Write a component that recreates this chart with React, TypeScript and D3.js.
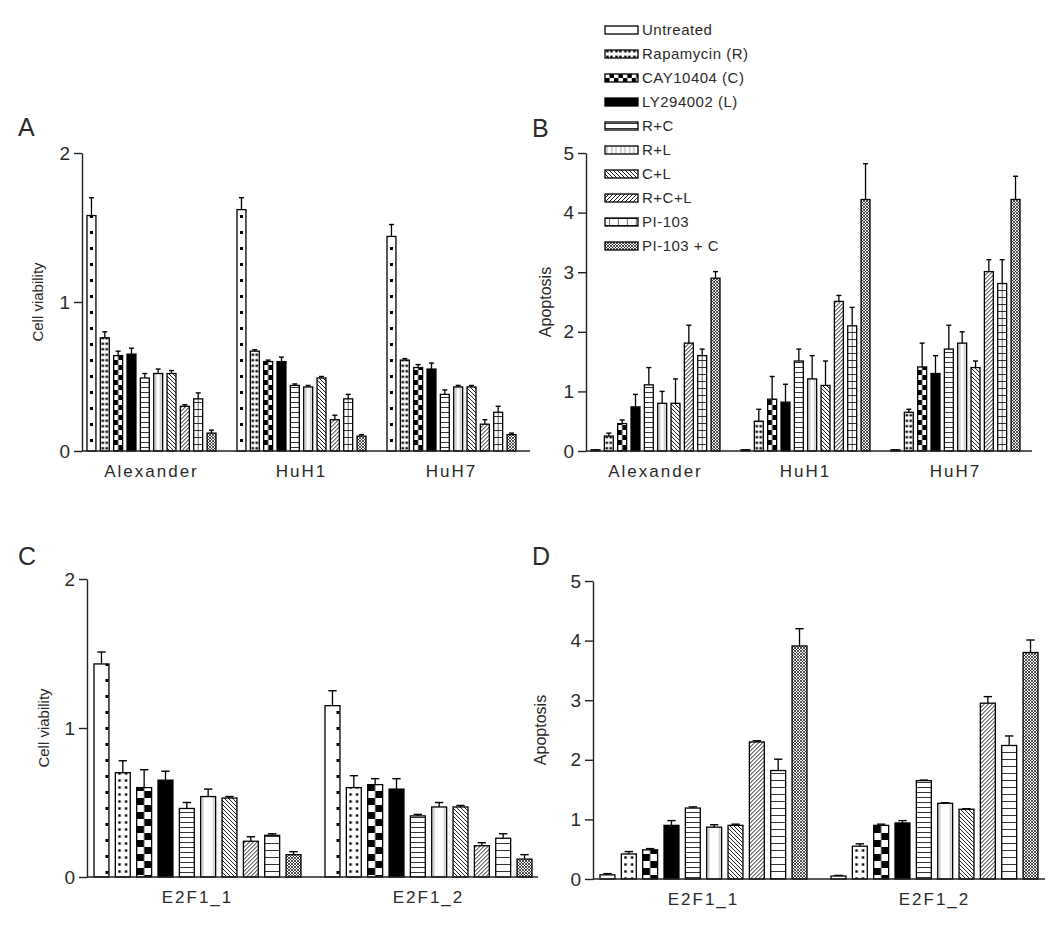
import React, { useEffect, useRef } from 'react';
import * as d3 from 'd3';

// treatments (legend order = bar order inside each group)
const treatments = [
  'Untreated',
  'Rapamycin (R)',
  'CAY10404 (C)',
  'LY294002 (L)',
  'R+C',
  'R+L',
  'C+L',
  'R+C+L',
  'PI-103',
  'PI-103 + C',
];

const cellLines = ['Alexander', 'HuH1', 'HuH7'];
const e2f1Lines = ['E2F1_1', 'E2F1_2'];

// A: cell viability, one row per cell line
const viabilityA = [
  [1.58, 0.76, 0.64, 0.65, 0.49, 0.52, 0.52, 0.3, 0.35, 0.12],
  [1.62, 0.67, 0.6, 0.6, 0.44, 0.43, 0.49, 0.21, 0.35, 0.1],
  [1.44, 0.61, 0.56, 0.55, 0.38, 0.43, 0.43, 0.18, 0.26, 0.11],
];
const viabilityAErr = [
  [0.12, 0.04, 0.03, 0.04, 0.03, 0.03, 0.02, 0.01, 0.04, 0.02],
  [0.08, 0.01, 0.01, 0.03, 0.01, 0.01, 0.01, 0.03, 0.03, 0.01],
  [0.08, 0.01, 0.02, 0.04, 0.03, 0.01, 0.01, 0.03, 0.04, 0.01],
];

// B: apoptosis
const apoptosisB = [
  [0.02, 0.25, 0.46, 0.74, 1.11, 0.8, 0.8, 1.81, 1.6, 2.9],
  [0.02, 0.5, 0.87, 0.82, 1.51, 1.21, 1.1, 2.51, 2.1, 4.22],
  [0.02, 0.65, 1.41, 1.3, 1.71, 1.81, 1.4, 3.01, 2.81, 4.22],
];
const apoptosisBErr = [
  [0, 0.05, 0.06, 0.21, 0.29, 0.2, 0.41, 0.3, 0.11, 0.11],
  [0, 0.2, 0.38, 0.3, 0.2, 0.39, 0.41, 0.1, 0.31, 0.6],
  [0, 0.05, 0.4, 0.3, 0.4, 0.19, 0.11, 0.2, 0.4, 0.39],
];

// C: cell viability, E2F1 lines
const viabilityC = [
  [1.43, 0.7, 0.6, 0.65, 0.46, 0.54, 0.53, 0.24, 0.28, 0.15],
  [1.15, 0.6, 0.62, 0.59, 0.41, 0.47, 0.47, 0.21, 0.26, 0.12],
];
const viabilityCErr = [
  [0.08, 0.08, 0.12, 0.06, 0.04, 0.05, 0.01, 0.03, 0.01, 0.02],
  [0.1, 0.08, 0.04, 0.07, 0.01, 0.03, 0.01, 0.02, 0.03, 0.03],
];

// D: apoptosis, E2F1 lines
const apoptosisD = [
  [0.07, 0.42, 0.49, 0.9, 1.19, 0.87, 0.9, 2.3, 1.82, 3.91],
  [0.05, 0.55, 0.9, 0.94, 1.65, 1.27, 1.17, 2.95, 2.24, 3.8],
];
const apoptosisDErr = [
  [0.02, 0.04, 0.02, 0.08, 0.02, 0.04, 0.02, 0.02, 0.19, 0.29],
  [0.01, 0.04, 0.02, 0.04, 0.01, 0.01, 0.01, 0.11, 0.16, 0.21],
];

const viabilityTicks = [0, 1, 2];
const apoptosisTicks = [0, 1, 2, 3, 4, 5];

const FONT = '"Liberation Sans", Arial, sans-serif';
const INK = '#2a2a2a';

const panels = [
  {
    letter: 'A', groups: cellLines, values: viabilityA, errors: viabilityAErr,
    ticks: viabilityTicks, yLabel: 'Cell viability',
    axisX: 82, xEnd: 530, top: 153, bottom: 451, barStart: 87, barEnd: 516,
    letterX: 18, letterY: 136, labelX: 38, groupPad: 0.14, barPad: 0.33, wide: false, labelSize: 15,
  },
  {
    letter: 'B', groups: cellLines, values: apoptosisB, errors: apoptosisBErr,
    ticks: apoptosisTicks, yLabel: 'Apoptosis',
    axisX: 586, xEnd: 1032, top: 153, bottom: 451, barStart: 591, barEnd: 1020,
    letterX: 532, letterY: 137, labelX: 545, groupPad: 0.14, barPad: 0.33, wide: false, labelSize: 16,
  },
  {
    letter: 'C', groups: e2f1Lines, values: viabilityC, errors: viabilityCErr,
    ticks: viabilityTicks, yLabel: 'Cell viability',
    axisX: 87, xEnd: 538, top: 579, bottom: 877, barStart: 94, barEnd: 532,
    letterX: 18, letterY: 565, labelX: 44, groupPad: 0.104, barPad: 0.3, wide: true, labelSize: 15,
  },
  {
    letter: 'D', groups: e2f1Lines, values: apoptosisD, errors: apoptosisDErr,
    ticks: apoptosisTicks, yLabel: 'Apoptosis',
    axisX: 593, xEnd: 1045, top: 581, bottom: 879, barStart: 600, barEnd: 1038,
    letterX: 532, letterY: 565, labelX: 540, groupPad: 0.104, barPad: 0.3, wide: true, labelSize: 16,
  },
];

// fill patterns, one set per bar width; tile origin = bar left edge
const addPatterns = (defs: any, prefix: string, w: number, wide: boolean) => {
  const mk = (i: number, tw: number, th: number) => {
    const p = defs
      .append('pattern')
      .attr('id', `${prefix}${i}`)
      .attr('patternUnits', 'userSpaceOnUse')
      .attr('width', tw)
      .attr('height', th);
    p.append('rect').attr('width', tw).attr('height', th).attr('fill', '#fff');
    return p;
  };
  // untreated: column of dots
  let p = mk(0, w, 16);
  p.append('rect').attr('x', wide ? w - 3.5 : w / 2 - 1.5).attr('y', 7).attr('width', 3).attr('height', 3).attr('fill', '#000');
  // rapamycin: dotted grid
  const rh = wide ? 7 : 5.5;
  p = mk(1, w, rh);
  [0.28, 0.72].forEach((f) =>
    p.append('rect').attr('x', w * f - 1.2).attr('y', rh / 2 - 1.2).attr('width', 2.4).attr('height', 2.4).attr('fill', '#000')
  );
  // CAY10404: checkerboard
  const ch = wide ? 14 : 10;
  p = mk(2, w, ch);
  p.append('rect').attr('x', 0).attr('y', 0).attr('width', w / 2).attr('height', ch / 2).attr('fill', '#000');
  p.append('rect').attr('x', w / 2).attr('y', ch / 2).attr('width', w / 2).attr('height', ch / 2).attr('fill', '#000');
  // LY294002: solid
  p = mk(3, w, 4);
  p.select('rect').attr('fill', '#000');
  // R+C: horizontal lines
  p = mk(4, w, 5);
  p.append('line').attr('x1', 0).attr('x2', w).attr('y1', 2.5).attr('y2', 2.5).attr('stroke', '#000').attr('stroke-width', 0.8);
  // R+L: fine vertical lines near edges
  p = mk(5, w, 4);
  [2, w - 2].forEach((x) =>
    p.append('line').attr('x1', x).attr('x2', x).attr('y1', 0).attr('y2', 4).attr('stroke', '#666').attr('stroke-width', 0.6)
  );
  // C+L: back diagonal
  p = mk(6, 4, 4);
  p.append('path').attr('d', 'M0,0L4,4M-1,3L1,5M3,-1L5,1').attr('stroke', '#000').attr('stroke-width', 0.9);
  // R+C+L: forward diagonal
  p = mk(7, 4, 4);
  p.append('path').attr('d', 'M0,4L4,0M-1,1L1,-1M3,5L5,3').attr('stroke', '#000').attr('stroke-width', 0.9);
  // PI-103: horizontal lines + centre line
  p = mk(8, w, 7);
  p.append('line').attr('x1', 0).attr('x2', w).attr('y1', 3.5).attr('y2', 3.5).attr('stroke', '#000').attr('stroke-width', 0.8);
  if (!wide) p.append('line').attr('x1', w / 2).attr('x2', w / 2).attr('y1', 0).attr('y2', 7).attr('stroke', '#000').attr('stroke-width', 0.6);
  // PI-103 + C: dense cross-hatch
  p = mk(9, 3, 3);
  p.append('path').attr('d', 'M0,0L3,3M0,3L3,0').attr('stroke', '#000').attr('stroke-width', 0.7);
};

const App: React.FC = () => {
  const svgRef = useRef<SVGSVGElement | null>(null);

  useEffect(() => {
    if (!svgRef.current) return;
    const svg = d3.select(svgRef.current);
    svg.selectAll('*').remove();
    const defs = svg.append('defs');

    panels.forEach((cfg) => {
      const g = svg.append('g');
      const prefix = `pat${cfg.letter}-`;

      const y = d3
        .scaleLinear()
        .domain([0, d3.max(cfg.ticks) as number])
        .range([cfg.bottom, cfg.top]);
      const x0 = d3
        .scaleBand<string>()
        .domain(cfg.groups)
        .range([cfg.barStart, cfg.barEnd])
        .paddingInner(cfg.groupPad)
        .paddingOuter(0);
      const x1 = d3
        .scaleBand<string>()
        .domain(treatments)
        .range([0, x0.bandwidth()])
        .paddingInner(cfg.barPad)
        .paddingOuter(0);
      const bw = x1.bandwidth();

      addPatterns(defs, prefix, bw, cfg.wide);

      // bars
      cfg.groups.forEach((grp, gi) => {
        const bars = g
          .selectAll(`.bar-${gi}`)
          .data(treatments.map((t, i) => ({ t, i, v: cfg.values[gi][i], e: cfg.errors[gi][i] })))
          .enter()
          .append('g')
          .attr('class', `bar-${gi}`)
          .attr('transform', (d) => `translate(${(x0(grp) as number) + (x1(d.t) as number)},0)`);

        bars
          .append('line')
          .attr('x1', bw / 2)
          .attr('x2', bw / 2)
          .attr('y1', (d) => y(d.v))
          .attr('y2', (d) => y(d.v + d.e))
          .attr('stroke', '#000')
          .attr('stroke-width', 1.3);
        bars
          .append('line')
          .attr('x1', bw / 2 - bw * 0.28)
          .attr('x2', bw / 2 + bw * 0.28)
          .attr('y1', (d) => y(d.v + d.e))
          .attr('y2', (d) => y(d.v + d.e))
          .attr('stroke', '#000')
          .attr('stroke-width', 1.4);

        bars
          .append('rect')
          .attr('x', 0)
          .attr('y', (d) => y(d.v))
          .attr('width', bw)
          .attr('height', (d) => y(0) - y(d.v))
          .attr('fill', (d) => `url(#${prefix}${d.i})`)
          .attr('stroke', '#000')
          .attr('stroke-width', 1.3);
      });

      // y axis
      const yAxis = d3
        .axisLeft(y)
        .tickValues(cfg.ticks)
        .tickSize(8)
        .tickSizeOuter(0)
        .tickPadding(4)
        .tickFormat(d3.format('d'));
      const ax = g.append('g').attr('transform', `translate(${cfg.axisX},0)`).call(yAxis as any);
      ax.select('.domain').attr('stroke', '#222').attr('stroke-width', 1.4);
      ax.selectAll('.tick line').attr('stroke', '#222').attr('stroke-width', 1.4);
      ax.selectAll('.tick text')
        .attr('font-family', FONT)
        .attr('font-size', 19)
        .attr('fill', INK);

      // x baseline
      g.append('line')
        .attr('x1', cfg.axisX)
        .attr('x2', cfg.xEnd)
        .attr('y1', y(0))
        .attr('y2', y(0))
        .attr('stroke', '#222')
        .attr('stroke-width', 1.4);

      // group labels
      g.selectAll('.grp')
        .data(cfg.groups)
        .enter()
        .append('text')
        .attr('x', (d) => (x0(d) as number) + x0.bandwidth() / 2)
        .attr('y', y(0) + 26)
        .attr('text-anchor', 'middle')
        .attr('font-family', FONT)
        .attr('font-size', 17)
        .attr('letter-spacing', 2)
        .attr('fill', INK)
        .text((d) => d);

      // y label
      g.append('text')
        .attr('transform', `translate(${cfg.labelX},${(cfg.top + cfg.bottom) / 2}) rotate(-90)`)
        .attr('text-anchor', 'middle')
        .attr('dy', '0.35em')
        .attr('font-family', FONT)
        .attr('font-size', cfg.labelSize)
        .attr('fill', INK)
        .text(cfg.yLabel);

      // panel letter
      g.append('text')
        .attr('x', cfg.letterX)
        .attr('y', cfg.letterY)
        .attr('font-family', FONT)
        .attr('font-size', 25)
        .attr('fill', INK)
        .text(cfg.letter);
    });

    // legend (uses narrow patterns from panel B)
    const leg = svg
      .append('g')
      .selectAll('.leg')
      .data(treatments)
      .enter()
      .append('g')
      .attr('transform', (_, i) => `translate(605,${30 + i * 24})`);
    leg
      .append('rect')
      .attr('x', 0)
      .attr('y', -4)
      .attr('width', 33)
      .attr('height', 8)
      .attr('fill', (_, i) => `url(#patB-${i})`)
      .attr('stroke', '#000')
      .attr('stroke-width', 1.3);
    leg
      .append('text')
      .attr('x', 37)
      .attr('y', 0)
      .attr('dy', '0.35em')
      .attr('font-family', FONT)
      .attr('font-size', 15)
      .attr('letter-spacing', 0.5)
      .attr('fill', INK)
      .text((d) => d);
  }, []);

  return (
    <svg
      ref={svgRef}
      width={1050}
      height={929}
      style={{ position: 'absolute', left: 0, top: 0, background: '#fff' }}
    />
  );
};

export default App;
